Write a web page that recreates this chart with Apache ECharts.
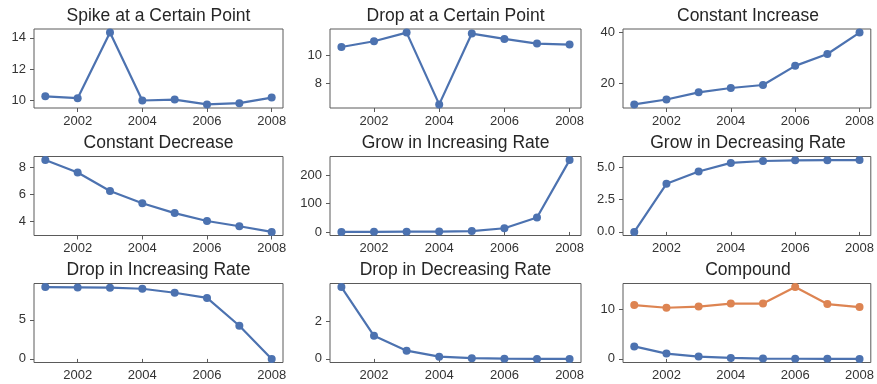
<!DOCTYPE html>
<html><head><meta charset="utf-8">
<script src="https://cdn.jsdelivr.net/npm/echarts@6/dist/echarts.min.js"></script>
<style>html,body{margin:0;padding:0;background:#fff}#c{width:877px;height:384px}</style>
</head><body><div id="c"></div><script>
const years = [2001, 2002, 2003, 2004, 2005, 2006, 2007, 2008];
const xTicks = [2002, 2004, 2006, 2008];
const titles = ['Spike at a Certain Point', 'Drop at a Certain Point', 'Constant Increase',
  'Constant Decrease', 'Grow in Increasing Rate', 'Grow in Decreasing Rate',
  'Drop in Increasing Rate', 'Drop in Decreasing Rate', 'Compound'];
const spike = [10.25, 10.13, 14.34, 9.98, 10.04, 9.73, 9.81, 10.17];
const drop = [10.56, 10.97, 11.58, 6.5, 11.51, 11.13, 10.8, 10.73];
const constInc = [11.5, 13.45, 16.3, 18.0, 19.2, 26.8, 31.5, 40.0];
const constDec = [8.56, 7.63, 6.26, 5.35, 4.61, 4.02, 3.63, 3.21];
const growInc = [0.2, 0.5, 0.9, 1.5, 3, 13, 51, 252];
const growDec = [0.0, 3.72, 4.67, 5.33, 5.48, 5.53, 5.54, 5.55];
const dropInc = [9.19, 9.15, 9.11, 8.98, 8.47, 7.8, 4.24, 0.0];
const dropDec = [3.82, 1.23, 0.44, 0.12, 0.04, 0.01, 0.0, 0.0];
const compoundOrange = [10.8, 10.26, 10.5, 11.1, 11.1, 14.4, 11.0, 10.4];
const compoundBlue = [2.5, 1.06, 0.46, 0.2, 0.07, 0.03, 0.01, 0.0];
const yTicks = [[10, 12, 14], [8, 10], [20, 40], [4, 6, 8], [0, 100, 200], [0, 2.5, 5], [0, 5], [0, 2], [0, 10]];
const yDecimals = [0, 0, 0, 0, 0, 1, 0, 0, 0];
const panels = [[spike], [drop], [constInc], [constDec], [growInc], [growDec], [dropInc], [dropDec], [compoundBlue, compoundOrange]];

const BLUE = '#4c72b0', ORANGE = '#dd8452', BORDER = '#5a5a5a', TXT = '#333';
const FONT = 'Liberation Sans, Arial, Helvetica, sans-serif';
const colLeft = [34, 330, 623], colW = [249, 251, 250];
const rowTop = [29, 156.5, 283.5], rowH = 79;

const grid = [], xAxis = [], yAxis = [], series = [], title = [];
panels.forEach((sets, i) => {
  const r = Math.floor(i / 3), c = i % 3;
  grid.push({left: colLeft[c], top: rowTop[r], width: colW[c], height: rowH,
    show: true, borderColor: BORDER, borderWidth: 1, containLabel: false});
  const all = [].concat(...sets);
  const lo = Math.min(...all), hi = Math.max(...all), pad = (hi - lo) * 0.05;
  xAxis.push({type: 'value', gridIndex: i, min: years[0] - 0.35, max: years[years.length - 1] + 0.35,
    splitLine: {show: false}, axisLine: {show: false},
    axisTick: {show: true, length: 4, lineStyle: {color: BORDER}, customValues: xTicks},
    axisLabel: {customValues: xTicks, margin: 6.5, color: TXT, fontSize: 13, fontFamily: FONT,
      formatter: v => String(Math.round(v))}});
  yAxis.push({type: 'value', gridIndex: i, min: lo - pad, max: hi + pad,
    splitLine: {show: false}, axisLine: {show: false},
    axisTick: {show: true, length: 4, lineStyle: {color: BORDER}, customValues: yTicks[i]},
    axisLabel: {customValues: yTicks[i], margin: 8, color: TXT, fontSize: 13, fontFamily: FONT,
      formatter: v => v.toFixed(yDecimals[i])}});
  sets.forEach((vals, k) => {
    const col = k === 0 ? BLUE : ORANGE;
    series.push({type: 'line', xAxisIndex: i, yAxisIndex: i,
      data: years.map((y, j) => [y, vals[j]]),
      symbol: 'circle', symbolSize: 8, showSymbol: true,
      lineStyle: {color: col, width: 2.2}, itemStyle: {color: col},
      animation: false, silent: true, clip: false});
  });
  title.push({text: titles[i], left: colLeft[c] + colW[c] / 2, top: rowTop[r] - 22, textAlign: 'center', padding: 0,
    textStyle: {fontSize: 17.5, fontWeight: 'normal', color: '#262626', fontFamily: FONT}});
});

const chart = echarts.init(document.getElementById('c'), null, {renderer: 'canvas'});
chart.setOption({animation: false, backgroundColor: '#fff', title, grid, xAxis, yAxis, series});
</script></body></html>
